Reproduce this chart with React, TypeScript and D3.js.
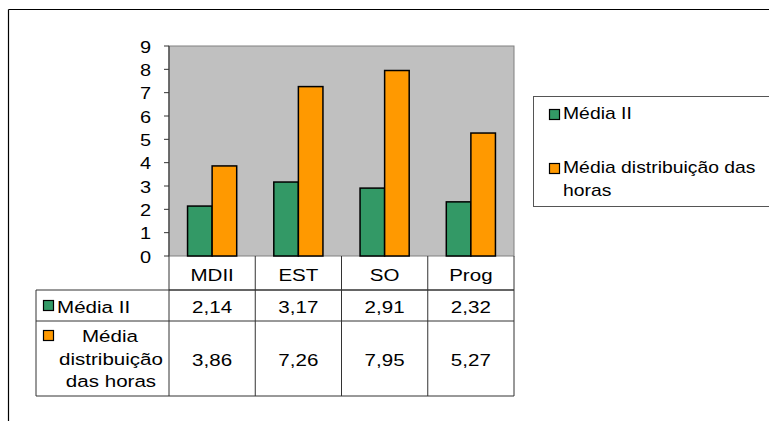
import React from "react";
import * as d3 from "d3";

// Chart data
const categories = ["MDII", "EST", "SO", "Prog"];
const seriesNames = ["Média II", "Média distribuição das horas"];
const mediaII = [2.14, 3.17, 2.91, 2.32];
const mediaHoras = [3.86, 7.26, 7.95, 5.27];
const yTicks = [0, 1, 2, 3, 4, 5, 6, 7, 8, 9];

const colors = ["#339966", "#FF9900"];
const font = "Liberation Sans, Arial, sans-serif";
const SX = 1.21; // horizontal stretch of the lettering

const fmt = (v: number) => v.toFixed(2).replace(".", ",");

type TProps = {
  x: number;
  y: number;
  size?: number;
  anchor?: "start" | "middle" | "end";
  children: React.ReactNode;
};

function T({ x, y, size = 17, anchor = "start", children }: TProps) {
  return (
    <text
      transform={`translate(${x},${y}) scale(${SX},1)`}
      fontSize={size}
      textAnchor={anchor}
      fill="#000"
      fontFamily={font}
    >
      {children}
    </text>
  );
}

export default function App() {
  const W = 769;
  const H = 421;
  const plotL = 169;
  const plotR = 514;
  const plotT = 46;
  const plotB = 256;

  const x = d3.scaleBand<string>().domain(categories).range([plotL, plotR]).paddingInner(0).paddingOuter(0);
  const y = d3.scaleLinear().domain([0, 9]).range([plotB, plotT]);
  const inner = d3
    .scaleBand<number>()
    .domain([0, 1])
    .range([0, x.bandwidth()])
    .paddingOuter(0.755)
    .paddingInner(0);

  const series = [mediaII, mediaHoras];

  // table geometry
  const tableL = 36;
  const rowCat = [plotB, 290];
  const row1 = [290, 321];
  const row2 = [321, 396];

  return (
    <svg
      width={W}
      height={H}
      style={{ position: "absolute", left: 0, top: 0, background: "#fff" }}
      fontFamily={font}
    >
      {/* frame */}
      <line x1={8.5} y1={9.5} x2={W} y2={9.5} stroke="#000" strokeWidth={1.2} />
      <line x1={8.5} y1={9.5} x2={8.5} y2={H} stroke="#000" strokeWidth={1.2} />

      {/* plot area */}
      <rect x={plotL} y={plotT} width={plotR - plotL} height={plotB - plotT} fill="#C0C0C0" stroke="#808080" strokeWidth={1} />
      <line x1={plotL} y1={plotT} x2={plotL} y2={plotB} stroke="#555" strokeWidth={1.5} />

      {/* y axis */}
      {yTicks.map((t) => (
        <g key={t}>
          <line x1={plotL - 5} x2={plotL} y1={y(t)} y2={y(t)} stroke="#333" strokeWidth={1} />
          <T x={151} y={y(t) + 6.5} size={16.5} anchor="end">{t}</T>
        </g>
      ))}

      {/* bars */}
      {categories.map((c, i) => (
        <g key={c}>
          {series.map((s, k) => (
            <rect
              key={k}
              x={(x(c) as number) + (inner(k) as number)}
              y={y(s[i])}
              width={inner.bandwidth()}
              height={plotB - y(s[i])}
              fill={colors[k]}
              stroke="#000"
              strokeWidth={1.5}
            />
          ))}
        </g>
      ))}

      {/* data table */}
      <g stroke="#333" strokeWidth={1} fill="none">
        <line x1={plotL} x2={plotR} y1={rowCat[1]} y2={rowCat[1]} />
        <line x1={tableL} x2={plotR} y1={row1[0]} y2={row1[0]} />
        <line x1={tableL} x2={plotR} y1={row1[1]} y2={row1[1]} />
        <line x1={tableL} x2={plotR} y1={row2[1]} y2={row2[1]} />
        <line x1={tableL} x2={tableL} y1={row1[0]} y2={row2[1]} />
        {categories.map((c) => (
          <line key={c} x1={x(c)} x2={x(c)} y1={plotB} y2={row2[1]} />
        ))}
        <line x1={plotR} x2={plotR} y1={plotB} y2={row2[1]} />
      </g>
      {categories.map((c, i) => {
        const cx = (x(c) as number) + x.bandwidth() / 2;
        return (
          <g key={c}>
            <T x={cx} y={281} anchor="middle">{c}</T>
            <T x={cx} y={313} anchor="middle">{fmt(mediaII[i])}</T>
            <T x={cx} y={366} anchor="middle">{fmt(mediaHoras[i])}</T>
          </g>
        );
      })}
      {/* row headers */}
      <rect x={43.5} y={300.5} width={10} height={10} fill={colors[0]} stroke="#000" strokeWidth={1.2} />
      <T x={57} y={313}>{seriesNames[0]}</T>
      <rect x={43.5} y={330.5} width={10} height={10} fill={colors[1]} stroke="#000" strokeWidth={1.2} />
      <T x={110} y={342} anchor="middle">Média</T>
      <T x={111} y={365} anchor="middle">distribuição</T>
      <T x={111} y={387} anchor="middle">das horas</T>

      {/* legend */}
      <rect x={533.5} y={96.5} width={W} height={110} fill="#fff" stroke="#555" strokeWidth={1} />
      <rect x={549.5} y={109.5} width={10} height={10} fill={colors[0]} stroke="#000" strokeWidth={1.2} />
      <T x={563} y={119} size={16}>{seriesNames[0]}</T>
      <rect x={549.5} y={163.5} width={10} height={10} fill={colors[1]} stroke="#000" strokeWidth={1.2} />
      <T x={563} y={173} size={16}>Média distribuição das</T>
      <T x={563} y={196} size={16}>horas</T>
    </svg>
  );
}
